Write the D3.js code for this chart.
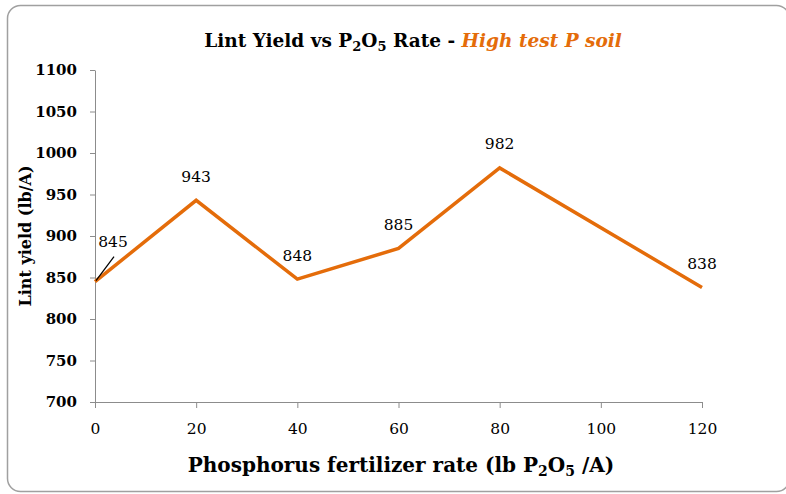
<!DOCTYPE html>
<html>
	<head>
		<meta charset="utf-8">
		<title>Lint Yield vs P2O5 Rate</title>
		<style>
			body { margin: 0; background: #fff; }
			svg { display: block; }
			svg text { font-family: "DejaVu Serif", "Liberation Serif", serif; }
		</style>
	</head>
	<body>
		<svg></svg>
		<script src="https://d3js.org/d3.v7.min.js"></script>
		<script>
			// data
			var rates = [0, 20, 40, 60, 80, 120]
			var yields = [845, 943, 848, 885, 982, 838]
			var xTicks = [0, 20, 40, 60, 80, 100, 120]
			var yTicks = [700, 750, 800, 850, 900, 950, 1000, 1050, 1100]

			// init vars
			var _width = 786
			var _height = 494
			var _svg = d3.select("svg").attr("width", _width).attr("height", _height)
			var orange = "#E46C0A"
			var axisColor = "#8c8c8c"

			// frame
			_svg.append("rect")
				.attr("x", 7.5).attr("y", 5.5)
				.attr("width", 782).attr("height", 486)
				.attr("rx", 13).attr("ry", 13)
				.attr("fill", "#fff")
				.attr("stroke", "#a0a0a0")
				.attr("stroke-width", 1.5)

			var x = d3.scaleLinear().domain([0, 120]).range([95, 702])
			var y = d3.scaleLinear().domain([700, 1100]).range([402, 70])

			// y axis
			var yAxis = _svg.append("g")
				.attr("transform", "translate(95,0)")
				.call(d3.axisLeft(y).tickValues(yTicks).tickFormat(d3.format("d")).tickSize(5).tickSizeOuter(0).tickPadding(13))
			yAxis.attr("font-family", null)
			yAxis.selectAll("text")
				.style("font-size", "15px").style("font-weight", "bold").attr("fill", "#000")
			yAxis.selectAll("line, path").attr("stroke", axisColor)

			// x axis
			var xAxis = _svg.append("g")
				.attr("transform", "translate(0,402)")
				.call(d3.axisBottom(x).tickValues(xTicks).tickSize(6).tickSizeOuter(0).tickPadding(15))
			xAxis.attr("font-family", null)
			xAxis.selectAll("text")
				.style("font-size", "15.5px").attr("fill", "#000")
			xAxis.selectAll("line, path").attr("stroke", axisColor)

			// line
			var pts = rates.map(function(r, i) { return [r, yields[i]] })
			_svg.append("path")
				.datum(pts)
				.attr("fill", "none")
				.attr("stroke", orange)
				.attr("stroke-width", 3.5)
				.attr("stroke-linejoin", "miter")
				.attr("d", d3.line().x(function(d) { return x(d[0]) }).y(function(d) { return y(d[1]) }))

			// data labels (offsets in px from point)
			var labelDx = [18, 0, 0, 0, 0, 0]
			var labelDy = [-35, -18.5, -18.5, -18.5, -18.5, -18.5]
			_svg.selectAll(".lbl")
				.data(pts)
				.enter().append("text")
				.attr("class", "lbl")
				.attr("x", function(d, i) { return x(d[0]) + labelDx[i] })
				.attr("y", function(d, i) { return y(d[1]) + labelDy[i] })
				.attr("text-anchor", "middle")
				.style("font-size", "15.5px")
				.text(function(d) { return d[1] })

			// leader line for first label
			_svg.append("line")
				.attr("x1", x(rates[0]) + 1).attr("y1", y(yields[0]) - 1)
				.attr("x2", x(rates[0]) + 19).attr("y2", y(yields[0]) - 25)
				.attr("stroke", "#000").attr("stroke-width", 1.2)

			// title
			var title = _svg.append("text")
				.attr("x", 413).attr("y", 47)
				.attr("text-anchor", "middle")
				.style("font-size", "18.5px").style("font-weight", "bold")
			title.append("tspan").text("Lint Yield vs P")
			title.append("tspan").text("2").attr("dy", 4).style("font-size", "13px")
			title.append("tspan").text("O").attr("dy", -4)
			title.append("tspan").text("5").attr("dy", 4).style("font-size", "13px")
			title.append("tspan").text(" Rate - ").attr("dy", -4)
			title.append("tspan").text("High test P soil").attr("fill", orange).style("font-style", "italic")

			// x title
			var xt = _svg.append("text")
				.attr("x", 401).attr("y", 472)
				.attr("text-anchor", "middle")
				.style("font-size", "20px").style("font-weight", "bold")
			xt.append("tspan").text("Phosphorus fertilizer rate (lb P")
			xt.append("tspan").text("2").attr("dy", 4).style("font-size", "14px")
			xt.append("tspan").text("O").attr("dy", -4)
			xt.append("tspan").text("5").attr("dy", 4).style("font-size", "14px")
			xt.append("tspan").text(" /A)").attr("dy", -4)

			// y title
			_svg.append("text")
				.attr("transform", "translate(31,236) rotate(-90)")
				.attr("text-anchor", "middle")
				.style("font-size", "16px").style("font-weight", "bold")
				.text("Lint yield (lb/A)")
		</script>
	</body>
</html>
